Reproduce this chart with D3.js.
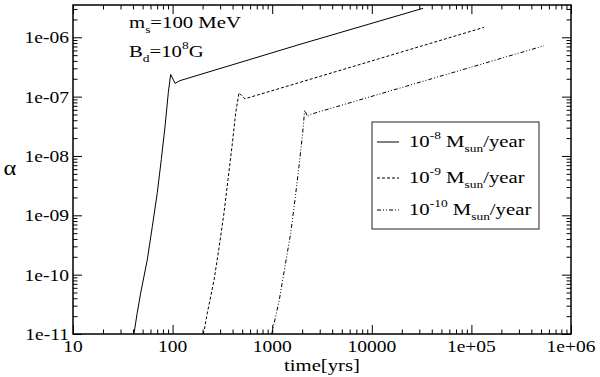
<!DOCTYPE html>
<html>
<head>
<meta charset="utf-8">
<script src="https://cdn.jsdelivr.net/npm/d3@7"></script>
<style>
  html, body { margin: 0; padding: 0; background: #fff; }
  svg { display: block; }
  text { font-family: "Liberation Serif", "Times New Roman", serif; fill: #000; }
</style>
</head>
<body>
<div id="chart"></div>
<script>
// Axis ticks
const xMajor = [10, 100, 1000, 10000, 1e5, 1e6];
const xMajorLabels = ["10", "100", "1000", "10000", "1e+05", "1e+06"];
const yMajor = [1e-11, 1e-10, 1e-9, 1e-8, 1e-7, 1e-6];
const yMajorLabels = ["1e-11", "1e-10", "1e-09", "1e-08", "1e-07", "1e-06"];

// Series: time [yrs] vs alpha
const time8 = [40.9, 44, 47.8, 55.7, 62.5, 70.2, 77.0, 83.9, 90.6, 95.7, 106, 118.6, 1900, 32700];
const alpha8 = [1e-11, 2.2e-11, 4.9e-11, 1.78e-10, 6.4e-10, 2.4e-9, 8.7e-9, 3.1e-8, 1.18e-7, 2.37e-7, 1.67e-7, 1.86e-7, 7.6e-7, 3.08e-6];

const time9 = [203, 212, 223, 261, 294, 328, 360, 395, 430, 464, 533, 134000];
const alpha9 = [1e-11, 1.4e-11, 2.24e-11, 8.2e-11, 3.0e-10, 1.09e-9, 4.0e-9, 1.46e-8, 5.3e-8, 1.16e-7, 9.2e-8, 1.47e-6];

const time10 = [988, 1070, 1178, 1343, 1534, 1694, 1858, 2023, 2118, 2270, 2397, 536000];
const alpha10 = [1e-11, 1.8e-11, 3.75e-11, 1.37e-10, 5.0e-10, 1.84e-9, 6.7e-9, 2.45e-8, 5.9e-8, 4.6e-8, 5.0e-8, 7.2e-7];

const seriesExp = ["-8", "-9", "-10"];
const seriesDash = [null, "3,2", "4,2,1,2,1,2"];

const width = 600, height = 377;
const plot = { left: 73, right: 571, top: 5, bottom: 334 };
const sx = 1.22; // the original's serif text is horizontally wide

const svg = d3.select("#chart").append("svg")
  .attr("width", width)
  .attr("height", height);

svg.append("rect").attr("width", width).attr("height", height).attr("fill", "#fff");

const x = d3.scaleLog().domain([10, 1e6]).range([plot.left, plot.right]);
const y = d3.scaleLog().domain([1e-11, 3.5e-6]).range([plot.bottom, plot.top]);

const isMajor = v => Math.abs(Math.log10(v) - Math.round(Math.log10(v))) < 1e-9;
const xMinor = x.ticks().filter(v => !isMajor(v));
const yMinor = y.ticks().filter(v => !isMajor(v));

// Inward ticks on all four sides
function ticks(axisFn, scale, values, size, pos) {
  const g = svg.append("g")
    .attr("transform", pos)
    .call(axisFn(scale).tickValues(values).tickSize(-size).tickFormat(""));
  g.select(".domain").remove();
  g.selectAll(".tick line").attr("stroke", "#000").attr("stroke-width", 1);
}
ticks(d3.axisBottom, x, xMajor, 9, `translate(0,${plot.bottom})`);
ticks(d3.axisBottom, x, xMinor, 4.5, `translate(0,${plot.bottom})`);
ticks(d3.axisTop, x, xMajor, 9, `translate(0,${plot.top})`);
ticks(d3.axisTop, x, xMinor, 4.5, `translate(0,${plot.top})`);
ticks(d3.axisLeft, y, yMajor, 9, `translate(${plot.left},0)`);
ticks(d3.axisLeft, y, yMinor, 4.5, `translate(${plot.left},0)`);
ticks(d3.axisRight, y, yMajor, 9, `translate(${plot.right},0)`);
ticks(d3.axisRight, y, yMinor, 4.5, `translate(${plot.right},0)`);

svg.append("rect")
  .attr("x", plot.left).attr("y", plot.top)
  .attr("width", plot.right - plot.left)
  .attr("height", plot.bottom - plot.top)
  .attr("fill", "none")
  .attr("stroke", "#000")
  .attr("stroke-width", 1.5);

// Stretched text helper
function label(px, py, anchor, size) {
  return svg.append("g")
    .attr("transform", `translate(${px},${py}) scale(${sx},1)`)
    .append("text")
    .attr("text-anchor", anchor)
    .attr("font-size", size);
}

xMajor.forEach((v, i) => label(x(v), 352, "middle", 16).text(xMajorLabels[i]));
yMajor.forEach((v, i) => label(69, y(v) + 6, "end", 16).text(yMajorLabels[i]));

label((plot.left + plot.right) / 2, 371, "middle", 17).text("time[yrs]");
label(10, 175, "middle", 20).text("α");

// Curves (straight segments, so the long power-law tails stay straight)
const line = d3.line()
  .x(d => x(d[0]))
  .y(d => y(d[1]));

[[time8, alpha8], [time9, alpha9], [time10, alpha10]].forEach(([t, a], i) => {
  svg.append("path")
    .datum(d3.zip(t, a))
    .attr("fill", "none")
    .attr("stroke", "#000")
    .attr("stroke-width", 1)
    .attr("stroke-linejoin", "round")
    .attr("stroke-dasharray", seriesDash[i])
    .attr("d", line);
});

// Annotation
const ann1 = label(129, 28, "start", 17);
ann1.append("tspan").text("m");
ann1.append("tspan").attr("font-size", 11).attr("dy", 5).text("s");
ann1.append("tspan").attr("dy", -5).text("=100 MeV");

const ann2 = label(129, 57, "start", 17);
ann2.append("tspan").text("B");
ann2.append("tspan").attr("font-size", 11).attr("dy", 5).text("d");
ann2.append("tspan").attr("dy", -5).text("=10");
ann2.append("tspan").attr("font-size", 11).attr("dy", -8).text("8");
ann2.append("tspan").attr("dy", 8).text("G");

// Legend
svg.append("rect")
  .attr("x", 372).attr("y", 122)
  .attr("width", 167).attr("height", 107)
  .attr("fill", "#fff")
  .attr("stroke", "#222")
  .attr("stroke-width", 1);

const legendRows = [147, 183, 215];
seriesExp.forEach((e, i) => {
  const ly = legendRows[i];
  svg.append("line")
    .attr("x1", 377).attr("x2", 399)
    .attr("y1", ly - 5).attr("y2", ly - 5)
    .attr("stroke", "#000")
    .attr("stroke-width", 1)
    .attr("stroke-dasharray", seriesDash[i]);
  const t = label(409, ly, "start", 17);
  t.append("tspan").text("10");
  t.append("tspan").attr("font-size", 11).attr("dy", -8).text(e);
  t.append("tspan").attr("dy", 8).text(" M");
  t.append("tspan").attr("font-size", 11).attr("dy", 5).text("sun");
  t.append("tspan").attr("dy", -5).text("/year");
});
</script>
</body>
</html>
